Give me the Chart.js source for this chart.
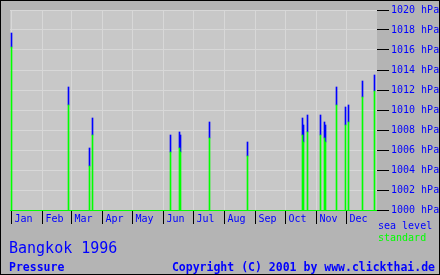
<!DOCTYPE html>
<html>
<head>
<meta charset="utf-8">
<script src="https://cdn.jsdelivr.net/npm/chart.js@4.4.1/dist/chart.umd.min.js"></script>
<style>
  html, body { margin: 0; padding: 0; background: #b4b4b4; }
  canvas { display: block; }
</style>
</head>
<body>
<canvas id="grafico" width="440" height="275"></canvas>
<script>
// day of year 1996 (0 = Jan 1)
const dias = [0, 57, 78, 81, 159, 168, 169, 198, 236, 291, 292, 296, 309, 313, 314, 325, 334, 337, 351, 363];
const presionEstandar = [1016.3, 1010.5, 1004.4, 1007.5, 1005.8, 1006.2, 1005.8, 1007.2, 1005.4, 1007.5,
                         1006.8, 1007.8, 1007.5, 1007.2, 1006.8, 1010.5, 1008.5, 1008.8, 1011.3, 1011.9];
const presionMar = [1017.7, 1012.3, 1006.2, 1009.2, 1007.5, 1007.8, 1007.5, 1008.8, 1006.8, 1009.2,
                    1008.5, 1009.5, 1009.5, 1008.8, 1008.5, 1012.3, 1010.3, 1010.5, 1012.9, 1013.5];
const inicioMes = [0, 31, 60, 91, 121, 152, 182, 213, 244, 274, 305, 335];
const meses = ['Jan', 'Feb', 'Mar', 'Apr', 'May', 'Jun', 'Jul', 'Aug', 'Sep', 'Oct', 'Nov', 'Dec'];

const titulo = 'Bangkok 1996';
const subtitulo = 'Pressure';
const copyright = 'Copyright (C) 2001 by www.clickthai.de';

const AZUL = '#0000ff';
const VERDE = '#00ff00';
const MONO = '"DejaVu Sans Mono", "Liberation Mono", monospace';

Chart.defaults.font.family = MONO;
Chart.defaults.font.size = 10;

const marco = {
  id: 'marco',
  beforeDraw(chart) {
    const { ctx, chartArea: a } = chart;
    ctx.save();
    ctx.fillStyle = '#b4b4b4';
    ctx.fillRect(0, 0, chart.width, chart.height);
    ctx.fillStyle = '#c8c8c8';
    ctx.fillRect(a.left, a.top, a.right - a.left, a.bottom - a.top);
    ctx.restore();
  },
  afterDraw(chart) {
    const ctx = chart.ctx;
    const a = chart.chartArea;
    const sx = chart.scales.x, sy = chart.scales.y;
    ctx.save();

    ctx.textBaseline = 'alphabetic';
    ctx.textAlign = 'left';

    ctx.font = '10px ' + MONO;
    ctx.fillStyle = AZUL;
    ctx.fillText('sea level', 378, 229);
    ctx.fillStyle = VERDE;
    ctx.fillText('standard', 378, 241);

    ctx.fillStyle = AZUL;
    ctx.font = '15px ' + MONO;
    ctx.fillText(titulo, 9, 253);

    ctx.font = 'bold 11.5px ' + MONO;
    ctx.fillText(subtitulo, 9, 270.5);
    ctx.textAlign = 'right';
    ctx.fillText(copyright, 435, 270.5);

    // marcas de los ejes
    ctx.fillStyle = '#000000';
    sy.ticks.forEach(t => {
      ctx.fillRect(sy.left, Math.floor(sy.getPixelForValue(t.value)), 12, 1);
    });
    sx.ticks.forEach(t => {
      ctx.fillRect(Math.floor(sx.getPixelForValue(t.value)), a.bottom + 1, 1, 13);
    });

    ctx.strokeStyle = '#000000';
    ctx.lineWidth = 1;
    ctx.strokeRect(0.5, 0.5, chart.width - 1, chart.height - 1);
    ctx.restore();
  }
};

const ctx = document.getElementById('grafico').getContext('2d');
new Chart(ctx, {
  type: 'bar',
  data: {
    datasets: [
      {
        label: 'standard',
        data: dias.map((d, i) => ({ x: d, y: [1000, presionEstandar[i]] })),
        backgroundColor: VERDE
      },
      {
        label: 'sea level',
        data: dias.map((d, i) => ({ x: d, y: [presionEstandar[i], presionMar[i]] })),
        backgroundColor: AZUL
      }
    ]
  },
  options: {
    responsive: false,
    animation: false,
    devicePixelRatio: 1,
    grouped: false,
    barThickness: 1,
    borderWidth: 0,
    borderSkipped: false,
    layout: { padding: { left: 10, top: 10, right: 0, bottom: 40 } },
    plugins: {
      legend: { display: false },
      tooltip: { enabled: false }
    },
    scales: {
      x: {
        type: 'linear',
        offset: false,
        min: -1.5,
        max: 365.5,
        afterBuildTicks: (scale) => {
          scale.ticks = inicioMes.map(v => ({ value: v }));
        },
        afterFit: (scale) => { scale.height = 25; },
        grid: {
          offset: false,
          color: '#d8d8d8',
          tickColor: '#000000',
          tickLength: 13
        },
        border: { display: true, color: VERDE, width: 1 },
        ticks: {
          color: AZUL,
          align: 'start',
          labelOffset: 3,
          padding: -10,
          maxRotation: 0,
          autoSkip: false,
          callback: (v, i) => meses[i]
        }
      },
      y: {
        position: 'right',
        min: 1000,
        max: 1020,
        afterFit: (scale) => { scale.width = 63; },
        grid: {
          color: '#d8d8d8',
          tickColor: '#000000',
          tickLength: 12
        },
        border: { display: false },
        ticks: {
          color: AZUL,
          stepSize: 2,
          padding: 2,
          callback: v => v + ' hPa'
        }
      }
    }
  },
  plugins: [marco]
});
</script>
</body>
</html>
